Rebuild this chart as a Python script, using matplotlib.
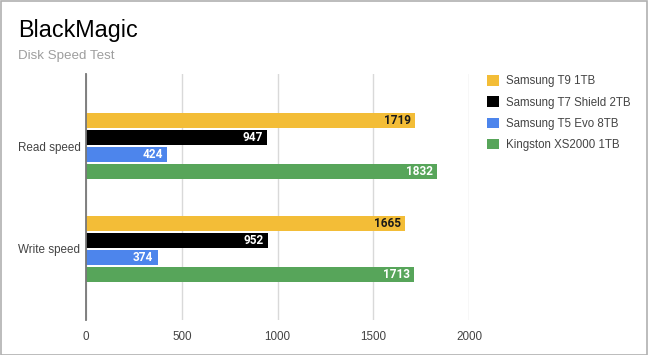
import numpy as np
import matplotlib.pyplot as plt
from matplotlib.patches import Rectangle

plt.rcParams['font.family'] = ['Liberation Sans', 'DejaVu Sans']

categorias = ["Read speed", "Write speed"]
discos = ["Samsung T9 1TB", "Samsung T7 Shield 2TB", "Samsung T5 Evo 8TB", "Kingston XS2000 1TB"]
valores = [
    [1719, 1665],  # Samsung T9 1TB
    [947, 952],    # Samsung T7 Shield 2TB
    [424, 374],    # Samsung T5 Evo 8TB
    [1832, 1713],  # Kingston XS2000 1TB
]
colores = ["#f3bd37", "#000000", "#4d85ec", "#57a55a"]
color_texto = ["#1a1a1a", "#ffffff", "#ffffff", "#ffffff"]
ticks_x = [0, 500, 1000, 1500, 2000]

fig = plt.figure(figsize=(6.48, 3.55), dpi=100)
ax = fig.add_axes([86 / 648, 1 - 320 / 355, 383 / 648, 246 / 355])

y = np.arange(len(categorias))
paso = 0.165
alto = 0.14
for i, (nombre, vals) in enumerate(zip(discos, valores)):
    pos = y + (i - 1.5) * paso
    ax.barh(pos, vals, height=alto, color=colores[i], label=nombre, zorder=3)
    for p, v in zip(pos, vals):
        ax.text(v - 22, p, str(v), ha="right", va="center", color=color_texto[i],
                fontsize=8.5, fontweight="bold", family=["Roboto", "DejaVu Sans"], zorder=4)

ax.set_xlim(0, 2000)
ax.set_ylim(1.69, -0.7)
ax.set_xticks(ticks_x)
ax.set_yticks(y)
ax.set_yticklabels(categorias)
ax.tick_params(axis="both", length=0, labelsize=8.4, colors="#444444")
ax.tick_params(axis="x", pad=8)
ax.tick_params(axis="y", pad=4)
ax.grid(axis="x", color="#d9d9d9", linewidth=1, zorder=0)
for s in ["top", "right", "bottom"]:
    ax.spines[s].set_visible(False)
ax.spines["left"].set_color("#777777")
ax.spines["left"].set_linewidth(1.3)
ax.spines["left"].set_zorder(5)

fig.text(18 / 648, 1 - 30 / 355, "BlackMagic", fontsize=16.8, color="#000000", va="center")
fig.text(18 / 648, 1 - 56 / 355, "Disk Speed Test", fontsize=9.6, color="#9e9e9e", va="center")

leg = fig.legend(loc="upper left", bbox_to_anchor=(477 / 648, 1 - 65 / 355), frameon=False,
                 fontsize=8.3, handlelength=1.0, handleheight=1.0, labelspacing=0.78,
                 handletextpad=0.65)
for t in leg.get_texts():
    t.set_color("#444444")

fig.patches.append(Rectangle((0.5 / 648, 0.5 / 355), 1 - 1.5 / 648, 1 - 1.5 / 355,
                             transform=fig.transFigure, fill=False, edgecolor="#b0b0b0", linewidth=1.2))

plt.savefig("out.png", dpi=100)
